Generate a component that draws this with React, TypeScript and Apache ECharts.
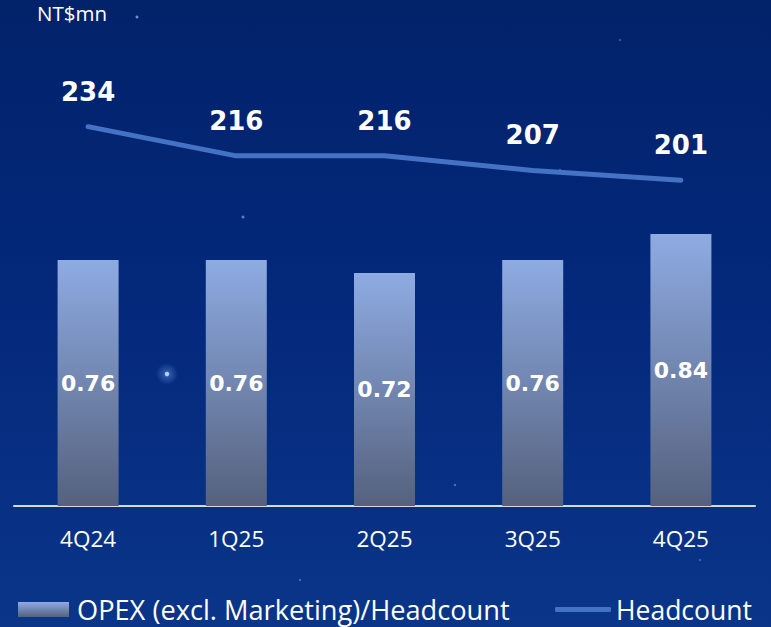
import React, { useEffect, useRef } from "react";
import * as echarts from "echarts";

const categories = ["4Q24", "1Q25", "2Q25", "3Q25", "4Q25"];
const opexPerHeadcount = [0.76, 0.76, 0.72, 0.76, 0.84];
const headcount = [234, 216, 216, 207, 201];
const barName = "OPEX (excl. Marketing)/Headcount";
const lineName = "Headcount";
const unitLabel = "NT$mn";

const FONT = "'Open Sans', 'Noto Sans', sans-serif";
const NUM_FONT = "'DejaVu Sans', sans-serif";

const stars: [number, number, number, number][] = [
  [167, 374, 2.2, 0.95],
  [137, 17, 1.5, 0.6],
  [243, 217, 1.5, 0.5],
  [400, 412, 1.2, 0.4],
  [455, 485, 1.2, 0.4],
  [560, 170, 1.2, 0.35],
  [300, 580, 1.2, 0.35],
  [700, 560, 1.2, 0.3],
  [620, 40, 1.2, 0.3],
];

export default function App() {
  const ref = useRef<HTMLDivElement>(null);
  useEffect(() => {
    document.body.style.margin = "0";
    const chart = echarts.init(ref.current!, undefined, { renderer: "svg" });
    const starGraphics: any[] = [];
    stars.forEach(([x, y, r, o]) => {
      if (r > 2) {
        starGraphics.push({
          type: "circle",
          shape: { cx: x, cy: y, r: r * 5 },
          style: {
            fill: {
              type: "radial",
              x: 0.5,
              y: 0.5,
              r: 0.5,
              colorStops: [
                { offset: 0, color: "rgba(120,175,255,0.45)" },
                { offset: 1, color: "rgba(120,175,255,0)" },
              ],
            },
          },
          silent: true,
          z: -1,
        });
      }
      starGraphics.push({
        type: "circle",
        shape: { cx: x, cy: y, r },
        style: { fill: `rgba(190,215,255,${o})` },
        silent: true,
        z: -1,
      });
    });
    chart.setOption({
      animation: false,
      backgroundColor: {
        type: "linear",
        x: 0,
        y: 0,
        x2: 0,
        y2: 1,
        colorStops: [
          { offset: 0, color: "#02226a" },
          { offset: 0.5, color: "#04297c" },
          { offset: 1, color: "#0a3589" },
        ],
      },
      textStyle: { fontFamily: FONT },
      title: {
        text: unitLabel,
        left: 32,
        top: -3,
        textStyle: { color: "#ffffff", fontSize: 20.5, fontWeight: "normal", fontFamily: FONT },
      },
      graphic: starGraphics,
      legend: [
        {
          data: [{ name: barName, icon: "rect" }],
          left: 13,
          top: 591,
          itemWidth: 51,
          itemHeight: 15,
          textStyle: { color: "#ffffff", fontSize: 27.2, fontFamily: FONT, padding: [0, 0, 0, 3] },
        },
        {
          data: [{ name: lineName, icon: "roundRect" }],
          left: 550,
          top: 591,
          itemWidth: 56,
          itemHeight: 5,
          textStyle: { color: "#ffffff", fontSize: 26.5, fontFamily: FONT },
        },
      ],
      grid: { left: 14, right: 16, top: 26, bottom: 121, containLabel: false },
      xAxis: {
        type: "category",
        data: categories,
        axisLine: { lineStyle: { color: "#d9d9d9", width: 2 } },
        axisTick: { show: false },
        axisLabel: { color: "#ffffff", fontSize: 22.5, margin: 21, fontFamily: FONT },
      },
      yAxis: [
        { type: "value", min: 0, max: 1.483, show: false, splitLine: { show: false } },
        { type: "value", min: 0, max: 296.1, show: false, splitLine: { show: false } },
      ],
      series: [
        {
          name: barName,
          type: "bar",
          data: opexPerHeadcount,
          barWidth: 61,
          yAxisIndex: 0,
          itemStyle: {
            color: {
              type: "linear",
              x: 0,
              y: 0,
              x2: 0,
              y2: 1,
              colorStops: [
                { offset: 0, color: "#8eabe2" },
                { offset: 1, color: "#55617e" },
              ],
            },
          },
          label: {
            show: true,
            position: "inside",
            color: "#ffffff",
            fontSize: 22,
            fontWeight: "bold",
            fontFamily: NUM_FONT,
            formatter: (p: any) => p.value.toFixed(2),
          },
        },
        {
          name: lineName,
          type: "line",
          data: headcount,
          yAxisIndex: 1,
          symbol: "circle",
          symbolSize: 0.1,
          showSymbol: true,
          lineStyle: { color: "#4472c4", width: 5, cap: "round", join: "round" },
          itemStyle: { color: "#4472c4" },
          label: {
            show: true,
            position: "top",
            distance: 22,
            color: "#ffffff",
            fontSize: 26,
            fontWeight: "bold",
            fontFamily: NUM_FONT,
          },
          z: 3,
        },
      ],
    });
    return () => chart.dispose();
  }, []);
  return (
    <div
      ref={ref}
      style={{ position: "absolute", left: 0, top: 0, width: 771, height: 627 }}
    />
  );
}
